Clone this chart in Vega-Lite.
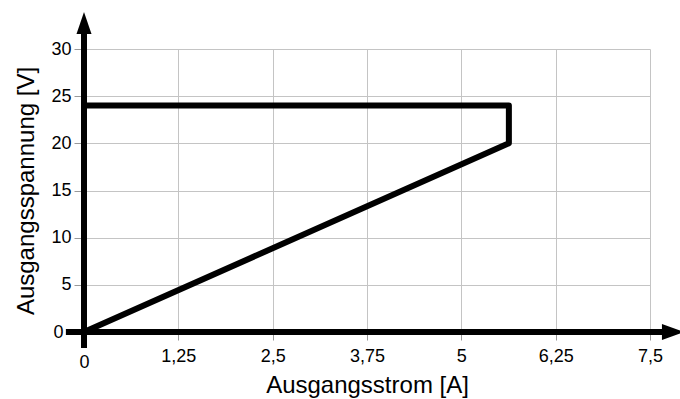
{
  "$schema": "https://vega.github.io/schema/vega-lite/v6.json",
  "width": 566,
  "height": 283,
  "autosize": "none",
  "padding": {"left": 84, "top": 49, "right": 30, "bottom": 67},
  "config": {"view": {"stroke": null}, "font": "Liberation Sans"},
  "data": {"values": [
    {"strom": 0, "spannung": 0, "punkt": 1},
    {"strom": 5.63, "spannung": 20, "punkt": 2},
    {"strom": 5.63, "spannung": 24, "punkt": 3},
    {"strom": 0, "spannung": 24, "punkt": 4}
  ]},
  "layer": [
    {
      "mark": {"type": "line", "color": "#000", "strokeWidth": 6, "strokeJoin": "round", "clip": false},
      "encoding": {
        "x": {
          "field": "strom", "type": "quantitative",
          "scale": {"domain": [0, 7.5], "nice": false, "zero": false},
          "axis": {
            "values": [0, 1.25, 2.5, 3.75, 5, 6.25, 7.5],
            "labelExpr": "replace(toString(datum.value), '.', ',')",
            "title": "Ausgangsstrom [A]",
            "domain": false, "grid": true, "gridColor": "#c4c4c4", "gridWidth": 1,
            "tickColor": "#999", "tickSize": 8, "tickWidth": 1,
            "labelFontSize": 18, "labelColor": "#000", "labelFlush": false, "labelOverlap": false,
            "labelPadding": {"condition": {"test": "datum.value == 0", "value": 13}, "value": 7},
            "titleFontSize": 24, "titleFontWeight": "normal", "titleColor": "#000", "titlePadding": 2
          }
        },
        "y": {
          "field": "spannung", "type": "quantitative",
          "scale": {"domain": [0, 30], "nice": false, "zero": false},
          "axis": {
            "values": [0, 5, 10, 15, 20, 25, 30],
            "title": "Ausgangsspannung [V]",
            "domain": false, "grid": true, "gridColor": "#c4c4c4", "gridWidth": 1,
            "tickColor": "#999", "tickSize": 10, "tickWidth": 1,
            "labelFontSize": 18, "labelColor": "#000", "labelFlush": false, "labelOverlap": false,
            "labelPadding": {"condition": {"test": "datum.value == 0", "value": 11}, "value": 3},
            "titleFontSize": 24, "titleFontWeight": "normal", "titleColor": "#000", "titlePadding": 12
          }
        },
        "order": {"field": "punkt", "type": "quantitative"}
      }
    },
    {
      "data": {"values": [{}]},
      "mark": {"type": "rule", "color": "#000", "strokeWidth": 6, "clip": false},
      "encoding": {
        "x": {"datum": -0.24, "type": "quantitative"},
        "x2": {"datum": 7.68},
        "y": {"datum": 0, "type": "quantitative"}
      }
    },
    {
      "data": {"values": [{}]},
      "mark": {"type": "rule", "color": "#000", "strokeWidth": 6, "clip": false},
      "encoding": {
        "x": {"datum": 0, "type": "quantitative"},
        "y": {"datum": -1.7, "type": "quantitative"},
        "y2": {"datum": 31.6}
      }
    },
    {
      "data": {"values": [{}]},
      "mark": {"type": "point", "shape": "M0,0L-2.2,-0.8L-2.2,0.8Z", "size": 400, "filled": true, "color": "#000", "opacity": 1, "clip": false},
      "encoding": {
        "x": {"datum": 7.95, "type": "quantitative"},
        "y": {"datum": 0, "type": "quantitative"}
      }
    },
    {
      "data": {"values": [{}]},
      "mark": {"type": "point", "shape": "M0,0L0.75,2.2L-0.75,2.2Z", "size": 400, "filled": true, "color": "#000", "opacity": 1, "clip": false},
      "encoding": {
        "x": {"datum": 0, "type": "quantitative"},
        "y": {"datum": 33.92, "type": "quantitative"}
      }
    }
  ]
}
